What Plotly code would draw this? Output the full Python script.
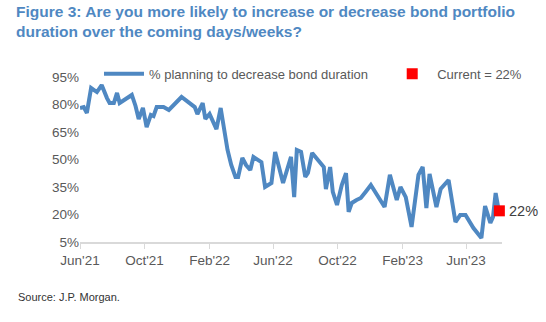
import plotly.graph_objects as go

dates = [
    "2021-06-01", "2021-06-08", "2021-06-14", "2021-06-22", "2021-07-03", "2021-07-12",
    "2021-07-22", "2021-07-27", "2021-08-04", "2021-08-10", "2021-08-15", "2021-08-27",
    "2021-09-07", "2021-09-14", "2021-09-20", "2021-09-28", "2021-10-05", "2021-10-13",
    "2021-10-18", "2021-10-24", "2021-11-06", "2021-11-16", "2021-12-10", "2022-01-04",
    "2022-01-09", "2022-01-19", "2022-01-24", "2022-02-01", "2022-02-14", "2022-02-22",
    "2022-03-07", "2022-03-14", "2022-03-22", "2022-03-27", "2022-04-04", "2022-04-11",
    "2022-04-19", "2022-04-25", "2022-05-10", "2022-05-17", "2022-05-29", "2022-06-05",
    "2022-06-13", "2022-06-20", "2022-07-05", "2022-07-11", "2022-07-16", "2022-07-24",
    "2022-08-01", "2022-08-06", "2022-08-14", "2022-08-23", "2022-09-02", "2022-09-05",
    "2022-09-09", "2022-09-17", "2022-09-22", "2022-09-30", "2022-10-09", "2022-10-17",
    "2022-10-22", "2022-10-28", "2022-11-06", "2022-11-14", "2022-11-23", "2022-12-03",
    "2022-12-16", "2022-12-29", "2023-01-08", "2023-01-21", "2023-01-28", "2023-02-07",
    "2023-02-18", "2023-03-03", "2023-03-11", "2023-03-18", "2023-03-24", "2023-04-06",
    "2023-04-14", "2023-04-29", "2023-05-12", "2023-05-21", "2023-05-31", "2023-06-15",
    "2023-06-30", "2023-07-07", "2023-07-17", "2023-07-22", "2023-07-27", "2023-08-02",
]
pct_decrease = [
    78.1, 78.6, 75.4, 89.0, 86.8, 90.6,
    83.5, 80.8, 80.8, 86.3, 80.8, 83.0,
    85.2, 79.2, 72.1, 78.1, 67.7, 74.3,
    73.7, 78.6, 78.6, 77.0, 84.1, 78.6,
    74.8, 80.8, 72.1, 74.8, 66.6, 78.1,
    55.2, 47.0, 40.5, 40.5, 50.8, 47.0,
    44.3, 51.4, 48.6, 35.0, 37.2, 54.1,
    45.4, 37.2, 51.4, 29.5, 55.2, 54.1,
    40.5, 42.6, 53.6, 50.3, 47.0, 45.9,
    33.9, 45.9, 32.3, 25.2, 36.1, 42.6,
    21.4, 26.3, 27.9, 29.0, 32.3, 36.1,
    30.1, 24.1, 41.6, 27.9, 35.0, 29.5,
    13.2, 41.6, 45.9, 23.5, 42.1, 24.1,
    33.9, 38.8, 15.9, 19.7, 19.7, 12.6,
    7.2, 24.6, 15.4, 18.6, 31.7, 22.0,
]
current_date = ["2023-08-03"]
current_value = [22]

tick_vals = ["2021-06-01", "2021-10-01", "2022-02-01", "2022-06-01",
             "2022-10-01", "2023-02-01", "2023-06-01"]
tick_text = ["Jun'21", "Oct'21", "Feb'22", "Jun'22", "Oct'22", "Feb'23", "Jun'23"]
y_ticks = [5, 20, 35, 50, 65, 80, 95]

FONT = "Liberation Sans, Arial, sans-serif"
GRAY = "#595959"
BLUE = "#4f88c2"

fig = go.Figure()
fig.add_trace(go.Scatter(
    x=dates, y=pct_decrease, mode="lines",
    name="% planning to decrease bond duration",
    line=dict(color=BLUE, width=4), legend="legend",
))
fig.add_trace(go.Scatter(
    x=current_date, y=current_value, mode="markers",
    name="Current = 22%",
    marker=dict(symbol="square", color="#ff0000", size=11),
    cliponaxis=False, legend="legend2",
))

fig.add_annotation(
    x=current_date[0], y=current_value[0], xref="x", yref="y",
    text="22%", showarrow=False, xanchor="left", xshift=8,
    font=dict(family=FONT, size=14.5, color="#404040"),
)
fig.add_annotation(
    x=-0.152, y=-0.333, xref="paper", yref="paper",
    text="Source: J.P. Morgan.", showarrow=False, xanchor="left", yanchor="middle",
    font=dict(family=FONT, size=11, color="#333333"),
)
fig.add_annotation(
    x=-0.156, y=1.46, xref="paper", yref="paper",
    text="<b>Figure 3: Are you more likely to increase or decrease bond portfolio<br>duration over the coming days/weeks?</b>",
    showarrow=False, xanchor="left", yanchor="top", align="left",
    font=dict(family=FONT, size=15.5, color=BLUE),
)

leg_font = dict(family=FONT, size=13, color=GRAY)
fig.update_layout(
    width=546, height=322,
    margin=dict(l=80, r=44, t=77, b=80),
    paper_bgcolor="white", plot_bgcolor="white",
    showlegend=True,
    legend=dict(
        orientation="h", x=0.045, y=1.02, xanchor="left", yanchor="middle",
        font=leg_font, bgcolor="rgba(0,0,0,0)", itemwidth=40,
    ),
    legend2=dict(
        orientation="h", x=0.728, y=1.02, xanchor="left", yanchor="middle",
        font=leg_font, bgcolor="rgba(0,0,0,0)", itemwidth=40,
    ),
    xaxis=dict(
        type="date", range=["2021-06-01", "2023-08-08"],
        tickvals=tick_vals, ticktext=tick_text,
        showgrid=False, showline=True, linecolor="#d9d9d9", linewidth=1.5,
        ticks="outside", ticklen=5, tickcolor="#d9d9d9",
        tickfont=dict(family=FONT, size=13.5, color=GRAY),
        zeroline=False,
    ),
    yaxis=dict(
        range=[5, 95], tickvals=y_ticks, ticktext=[f"{v}%" for v in y_ticks],
        showgrid=False, showline=False, zeroline=False, ticks="",
        tickfont=dict(family=FONT, size=13.5, color=GRAY),
    ),
)

fig.write_html("out.html")
